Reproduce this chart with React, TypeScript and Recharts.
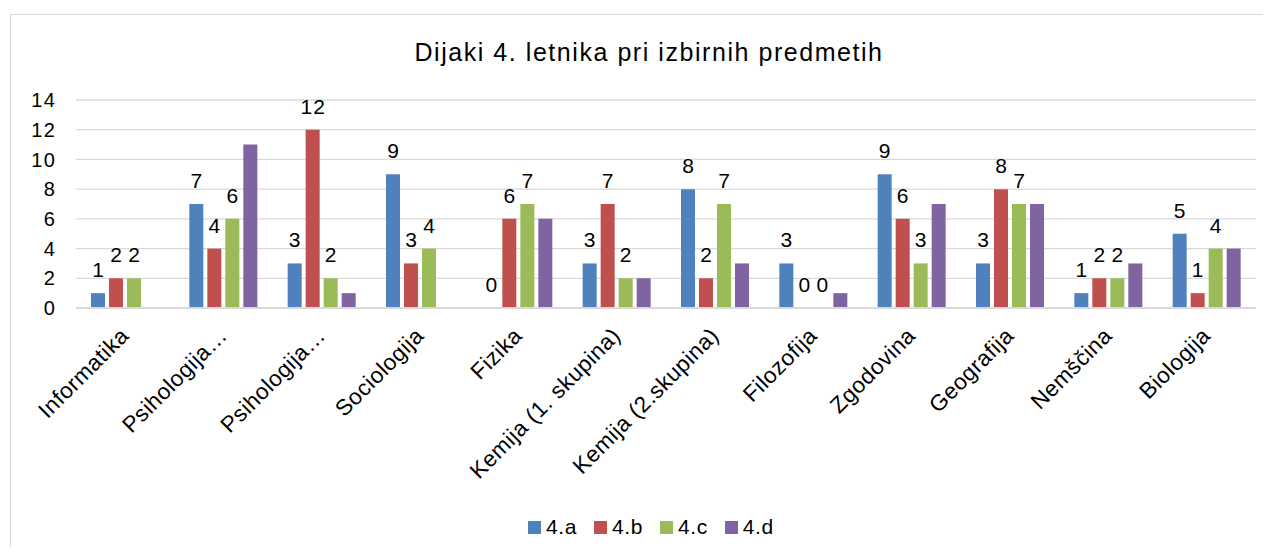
import React from 'react';
import { BarChart, Bar, XAxis, YAxis, CartesianGrid, LabelList } from 'recharts';

const TITLE = 'Dijaki 4. letnika pri izbirnih predmetih';

const predmeti = [
  'Informatika',
  'Psihologija…',
  'Psihologija…',
  'Sociologija',
  'Fizika',
  'Kemija (1. skupina)',
  'Kemija (2.skupina)',
  'Filozofija',
  'Zgodovina',
  'Geografija',
  'Nemščina',
  'Biologija',
];

const razred4a = [1, 7, 3, 9, 0, 3, 8, 3, 9, 3, 1, 5];
const razred4b = [2, 4, 12, 3, 6, 7, 2, 0, 6, 8, 2, 1];
const razred4c = [2, 6, 2, 4, 7, 2, 7, 0, 3, 7, 2, 4];
const razred4d = [0, 11, 1, 0, 6, 2, 3, 1, 7, 7, 3, 4];

const yTicks = [0, 2, 4, 6, 8, 10, 12, 14];

const SERIJE = [
  { key: 'a', name: '4.a', color: '#4F81BD', labels: true },
  { key: 'b', name: '4.b', color: '#C0504D', labels: true },
  { key: 'c', name: '4.c', color: '#9BBB59', labels: true },
  { key: 'd', name: '4.d', color: '#8064A2', labels: false },
];

const data = predmeti.map((p, i) => ({
  id: `${i}`,
  predmet: p,
  a: razred4a[i],
  b: razred4b[i],
  c: razred4c[i],
  d: razred4d[i],
}));

const FONT = '"Liberation Sans", Arial, sans-serif';

function YTick({ y, payload }: any) {
  return (
    <text x={56} y={y} dy="0.36em" textAnchor="end" fontSize={20} letterSpacing={1.2} fill="#000" fontFamily={FONT}>
      {payload.value}
    </text>
  );
}

function XTick({ x, y, payload, index }: any) {
  const ax = x + 5;
  const ay = y + 29;
  return (
    <text
      x={ax}
      y={ay}
      textAnchor="end"
      fontSize={22.5}
      letterSpacing={0.5}
      fill="#000"
      fontFamily={FONT}
      transform={`rotate(-45, ${ax}, ${ay})`}
    >
      {predmeti[index] ?? payload.value}
    </text>
  );
}

function BarLabel({ x, y, width, value }: any) {
  return (
    <text x={x + width / 2 + 0.6} y={y - 16} textAnchor="middle" fontSize={21} letterSpacing={1.2} fill="#000" fontFamily={FONT}>
      {value}
    </text>
  );
}

// zero-valued bars get a hair-thin height so their "0" label still shows
const nulaVisina = (v: any) => (v === 0 ? 0.01 : 0);

export default function App() {
  return (
    <div style={{ position: 'relative', margin: -8, width: 1271, height: 555, overflow: 'hidden', background: '#fff', fontFamily: FONT }}>
      <div style={{ position: 'absolute', left: 10, top: 14, width: 1400, height: 700, border: '1.5px solid #D9D9D9' }} />
      <div
        style={{
          position: 'absolute',
          left: 649,
          top: 40,
          transform: 'translateX(-50%)',
          whiteSpace: 'nowrap',
          fontSize: 25,
          lineHeight: '25px',
          letterSpacing: 1.55,
          color: '#000',
        }}
      >
        {TITLE}
      </div>
      <div style={{ position: 'absolute', left: 0, top: 0 }}>
        <BarChart
          width={1271}
          height={555}
          data={data}
          margin={{ top: 100, right: 15, bottom: 0, left: 10 }}
          barCategoryGap={15}
          barGap={4}
        >
          <CartesianGrid stroke="#D9D9D9" strokeWidth={1.3} vertical={false} />
          <XAxis
            dataKey="id"
            height={247}
            interval={0}
            tick={<XTick />}
            tickLine={false}
            tickSize={0}
            tickMargin={0}
            axisLine={{ stroke: '#D9D9D9', strokeWidth: 2 }}
          />
          <YAxis
            width={66}
            domain={[0, 14]}
            ticks={yTicks}
            interval={0}
            tick={<YTick />}
            tickLine={false}
            tickSize={0}
            axisLine={false}
          />
          {SERIJE.map((s) => (
            <Bar
              key={s.key}
              dataKey={s.key}
              name={s.name}
              fill={s.color}
              minPointSize={s.labels ? nulaVisina : 0}
              isAnimationActive={false}
            >
              {s.labels && <LabelList dataKey={s.key} content={<BarLabel />} />}
            </Bar>
          ))}
        </BarChart>
      </div>
      <div
        style={{
          position: 'absolute',
          left: 528,
          top: 517,
          display: 'flex',
          alignItems: 'center',
          height: 20,
        }}
      >
        {SERIJE.map((s) => (
          <div key={s.key} style={{ display: 'flex', alignItems: 'center', marginRight: 17 }}>
            <span style={{ width: 13, height: 13, background: s.color, marginRight: 5, display: 'inline-block' }} />
            <span style={{ fontSize: 21, lineHeight: '20px', letterSpacing: 0.6, color: '#000' }}>{s.name}</span>
          </div>
        ))}
      </div>
    </div>
  );
}
